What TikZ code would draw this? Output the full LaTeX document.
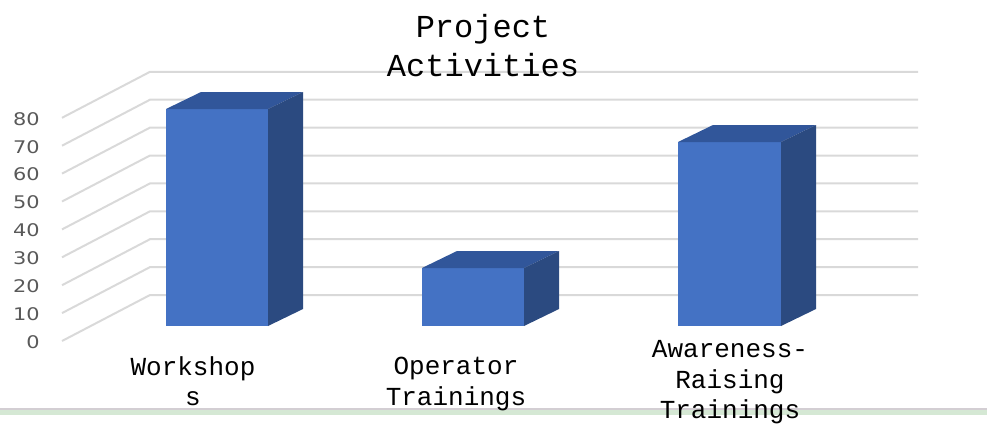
\documentclass[tikz,border=0pt]{standalone}
\usepackage{fontspec}
\newfontfamily\monofont{Liberation Mono}
\newfontfamily\tickfont[FakeStretch=1.2]{DejaVu Sans}
\definecolor{barfront}{HTML}{4472C4}
\definecolor{bartop}{HTML}{31569A}
\definecolor{barside}{HTML}{2B4A80}
\definecolor{gridgray}{HTML}{D9D9D9}
\definecolor{ticktext}{HTML}{595959}
\definecolor{rulegreen}{HTML}{D5E8D4}
\definecolor{rulegray}{HTML}{D3CED3}

\newcommand\drawcolumn[3]{% left, right, top
  \fill[barfront] (#1,326) rectangle (#2,#3);
  \fill[bartop] (#1,#3) -- ++(35,-17) -- (#2+35,#3-17) -- (#2,#3) -- cycle;
  \fill[barside] (#2,#3) -- ++(35,-17) -- (#2+35,309) -- (#2,326) -- cycle;
}

\begin{document}
\begin{tikzpicture}[x=0.5pt,y=-0.5pt,
    gridline/.style={gridgray,line width=1pt},
    ticklabel/.style={anchor=east,inner sep=0pt,text=ticktext,font=\tickfont\fontsize{8.7}{9}\selectfont},
    catlabel/.style={anchor=north,align=center,inner sep=0pt,font=\monofont\fontsize{13}{15.3}\selectfont}]

  \useasboundingbox (0,0) rectangle (987,425);

  % rule at the foot
  \fill[rulegray] (0,407.5) rectangle (987,409.5);
  \fill[rulegreen] (0,409.5) rectangle (987,415);

  % walls
  \foreach \i in {0,...,8}{
    \draw[gridline] (62,341-27.9*\i) -- (150,295-27.9*\i) -- (918,295-27.9*\i);
    \pgfmathtruncatemacro\v{10*\i}
    \node[ticklabel] (tick\v) at (40,342-27.9*\i) {\v};
  }

  % columns
  \drawcolumn{166}{268}{109}
  \drawcolumn{422}{524}{268}
  \drawcolumn{678}{781}{142}

  \node[anchor=north,align=center,inner sep=0pt,font=\monofont\fontsize{16}{19.5}\selectfont]
    (title) at (483,14) {Project\\Activities};

  \node[catlabel] (workshops) at (193,356) {Workshop\\s};
  \node[catlabel] (operator) at (456,357) {Operator\\Trainings};
  \node[catlabel] (awareness) at (730,340) {Awareness-\\Raising\\Trainings};
\end{tikzpicture}
\end{document}
